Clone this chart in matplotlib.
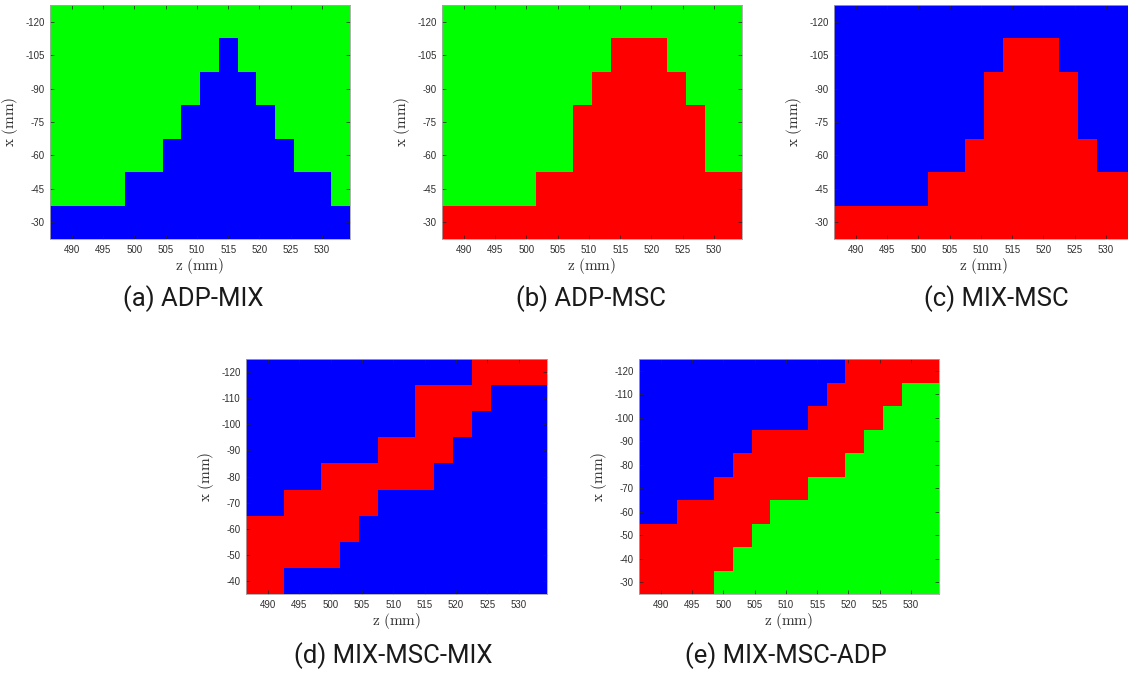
import numpy as np
import matplotlib
matplotlib.use('Agg')
import matplotlib.pyplot as plt
from matplotlib.colors import ListedColormap

# Class maps, one string per row (top row first), one letter per z column
# B = blue, R = red, G = green
z_centers = [488, 491, 494, 497, 500, 503, 506, 509, 512, 515, 518, 521, 524, 527, 530, 533]

x_rows_abc = [-120, -105, -90, -75, -60, -45, -30]
x_rows_d = [-120, -110, -100, -90, -80, -70, -60, -50, -40]
x_rows_e = [-120, -110, -100, -90, -80, -70, -60, -50, -40, -30]

map_a = ["GGGGGGGGGGGGGGGG",
         "GGGGGGGGGBGGGGGG",
         "GGGGGGGGBBBGGGGG",
         "GGGGGGGBBBBBGGGG",
         "GGGGGGBBBBBBBGGG",
         "GGGGBBBBBBBBBBBG",
         "BBBBBBBBBBBBBBBB"]

map_b = ["GGGGGGGGGGGGGGGG",
         "GGGGGGGGGRRRGGGG",
         "GGGGGGGGRRRRRGGG",
         "GGGGGGGRRRRRRRGG",
         "GGGGGGGRRRRRRRGG",
         "GGGGGRRRRRRRRRRR",
         "RRRRRRRRRRRRRRRR"]

map_c = ["BBBBBBBBBBBBBBBB",
         "BBBBBBBBBRRRBBBB",
         "BBBBBBBBRRRRRBBB",
         "BBBBBBBBRRRRRBBB",
         "BBBBBBBRRRRRRRBB",
         "BBBBBRRRRRRRRRRR",
         "RRRRRRRRRRRRRRRR"]

map_d = ["BBBBBBBBBBBBRRRR",
         "BBBBBBBBBRRRRBBB",
         "BBBBBBBBBRRRBBBB",
         "BBBBBBBRRRRBBBBB",
         "BBBBRRRRRRBBBBBB",
         "BBRRRRRBBBBBBBBB",
         "RRRRRRBBBBBBBBBB",
         "RRRRRBBBBBBBBBBB",
         "RRBBBBBBBBBBBBBB"]

map_e = ["BBBBBBBBBBBRRRRR",
         "BBBBBBBBBBRRRRGG",
         "BBBBBBBBBRRRRGGG",
         "BBBBBBRRRRRRGGGG",
         "BBBBBRRRRRRGGGGG",
         "BBBBRRRRRGGGGGGG",
         "BBRRRRRGGGGGGGGG",
         "RRRRRRGGGGGGGGGG",
         "RRRRRGGGGGGGGGGG",
         "RRRRGGGGGGGGGGGG"]

captions = ['(a) ADP-MIX', '(b) ADP-MSC', '(c) MIX-MSC', '(d) MIX-MSC-MIX', '(e) MIX-MSC-ADP']

class_index = {'B': 0, 'R': 1, 'G': 2}
cmap = ListedColormap(['#0000ff', '#ff0000', '#00ff00'])

plt.rcParams['axes.unicode_minus'] = False
plt.rcParams['mathtext.fontset'] = 'cm'

W, H = 1128, 676
fig = plt.figure(figsize=(W / 100, H / 100), dpi=100)


def add_panel(px_left, px_top, px_right, px_bottom, rows, xs, yticks, caption, cap_x, cap_y):
    ax = fig.add_axes([px_left / W, 1 - px_bottom / H,
                       (px_right - px_left) / W, (px_bottom - px_top) / H])
    grid = np.array([[class_index[ch] for ch in r] for r in rows])
    z = np.array(z_centers, dtype=float)
    x = np.array(xs, dtype=float)
    dz = z[1] - z[0]
    dx = x[1] - x[0]
    z_edges = np.concatenate([z - dz / 2, [z[-1] + dz / 2]])
    x_edges = np.concatenate([x - dx / 2, [x[-1] + dx / 2]])
    ax.pcolormesh(z_edges, x_edges, grid, cmap=cmap, vmin=-0.5, vmax=2.5,
                  shading='flat', antialiased=False, linewidth=0)
    ax.set_xlim(z_edges[0], z_edges[-1])
    ax.set_ylim(max(x_edges), min(x_edges))  # x runs downward, like the original
    ax.set_xticks(range(490, 531, 5))
    ax.set_yticks(yticks)
    ax.tick_params(direction='in', top=True, right=True, length=3, width=0.5,
                   color='#262626', labelsize=7, labelcolor='#303030', pad=4)
    for lab in ax.get_xticklabels() + ax.get_yticklabels():
        lab.set_family('Liberation Sans')
    for s in ax.spines.values():
        s.set_color('#a6a6a6')
        s.set_linewidth(0.6)
    ax.set_xlabel(r'$\mathrm{z\ (mm)}$', fontsize=11, labelpad=1, color='#303030')
    ax.set_ylabel(r'$\mathrm{x\ (mm)}$', fontsize=11, labelpad=4, color='#303030')
    fig.text(cap_x / W, 1 - cap_y / H, caption, family='Roboto', fontsize=18.5,
             color='#1a1a1a', ha='center', va='center')
    return ax


ticks_15 = list(range(-120, -29, 15))
add_panel(50, 5, 350, 239, map_a, x_rows_abc, ticks_15, captions[0], 193, 299)
add_panel(442, 5, 742, 239, map_b, x_rows_abc, ticks_15, captions[1], 591, 299)
add_panel(834, 5, 1134, 239, map_c, x_rows_abc, ticks_15, captions[2], 996, 299)
add_panel(246, 359, 547, 594, map_d, x_rows_d, list(range(-120, -39, 10)), captions[3], 393, 656)
add_panel(639, 359, 939, 594, map_e, x_rows_e, list(range(-120, -29, 10)), captions[4], 786, 656)

fig.savefig('out.png', dpi=100)
